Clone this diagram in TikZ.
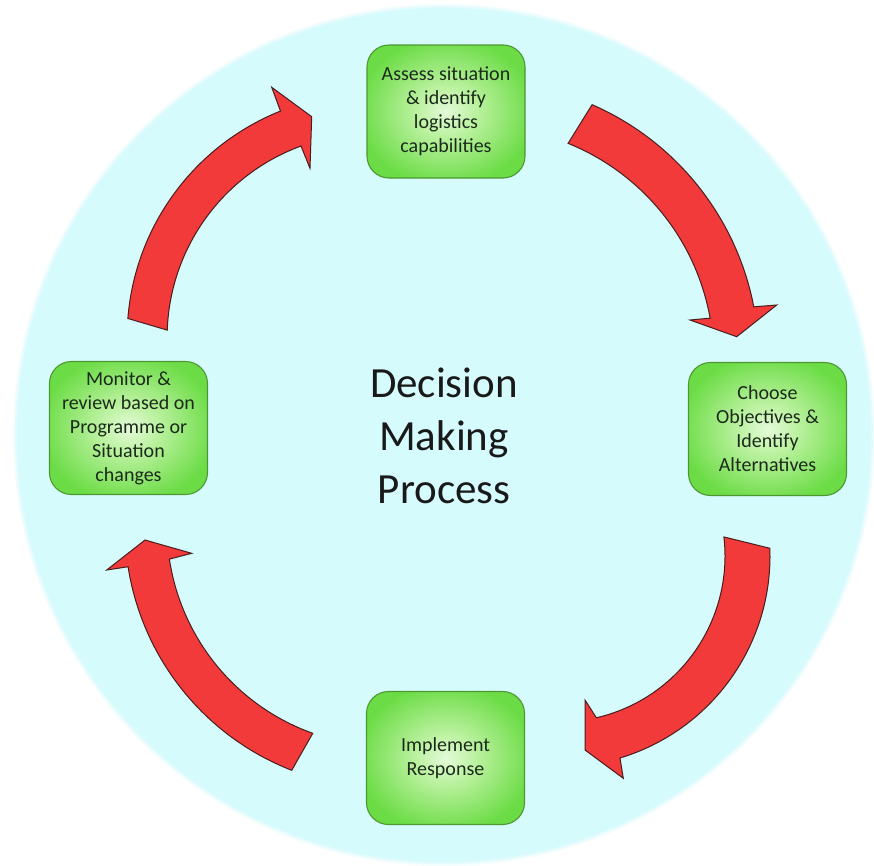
\documentclass[tikz,border=0pt]{standalone}
\usepackage{fontspec}
\setmainfont{Carlito}
\definecolor{discfill}{HTML}{D5FBFC}
\definecolor{arrowred}{HTML}{F23A3A}
\definecolor{arrowline}{HTML}{4A1C1C}
\definecolor{glowin}{HTML}{E4FADA}
\definecolor{glowmid}{HTML}{BDF2A2}
\definecolor{glowout}{HTML}{6BDC45}
\definecolor{boxline}{HTML}{4E9832}
\definecolor{boxtext}{HTML}{1C2A1C}
\pgfdeclareradialshading{boxglow}{\pgfpoint{0bp}{0bp}}{%
  color(0bp)=(glowin); color(9bp)=(glowmid); color(28bp)=(glowout); color(50bp)=(glowout)}
\begin{document}
\begin{tikzpicture}[x=1pt,y=-1pt,
  stepbox/.style={draw=boxline, line width=1.1pt, shading=boxglow,
    rounded corners=22pt, minimum width=158pt, minimum height=133pt,
    align=center, text=boxtext, font=\fontsize{20}{24}\selectfont},
  bentarrow/.style={fill=arrowred, draw=arrowline, line width=1pt, line join=miter},
  titletext/.style={align=center, text=black!90, font=\fontsize{43}{53}\selectfont}]

% page
\fill[white] (0,0) rectangle (874,865);
\useasboundingbox (0,0) rectangle (874,865);

% pale disc with a slightly soft rim
\coordinate (hub) at (444,435);
\fill[discfill, opacity=0.3] (hub) circle[radius=431];
\fill[discfill, opacity=0.5] (hub) circle[radius=429];
\fill[discfill] (hub) circle[radius=427];

% process steps
\node[stepbox] (assess)    at (446,111.5) {Assess situation\\\& identify\\logistics\\capabilities};
\node[stepbox] (choose)    at (767.5,429) {Choose\\Objectives \&\\Identify\\Alternatives};
\node[stepbox] (implement) at (445.5,758) {Implement\\Response};
\node[stepbox] (monitor)   at (128.5,428) {Monitor \&\\review based on\\Programme or\\Situation\\changes};

\node[titletext] (title) at (444,436) {Decision\\Making\\Process};

% curved arrows between the steps
\begin{scope}[shift={(480.8,359.4)}]
  \draw[bentarrow] (-66.4:278) arc[start angle=-66.4, end angle=-10.9, radius=278]
    -- (295.9,-54.4) -- (255.9,-22.7) -- (209.2,-39.4)
    -- (-10.2:233) arc[start angle=-10.2, end angle=-68, radius=233] -- cycle;
\end{scope}
\begin{scope}[shift={(559,556)}]
  \draw[bentarrow] (-2.1:211) arc[start angle=-2.1, end angle=73.2, radius=211]
    -- (64.3,222.3) -- (26,194) -- (26,144)
    -- (77:166) arc[start angle=77, end angle=-6.6, radius=166] -- cycle;
\end{scope}
\begin{scope}[shift={(386.9,526.2)}]
  \draw[bentarrow] (111.3:262) arc[start angle=111.3, end angle=171.1, radius=262]
    -- (-280.2,43.8) -- (-241.9,13.8) -- (-195.2,27.1)
    -- (171.4:220) arc[start angle=171.4, end angle=109.7, radius=220] -- cycle;
\end{scope}
\begin{scope}[shift={(371.1,337.6)}]
  \draw[bentarrow] (184.5:244) arc[start angle=184.5, end angle=248.2, radius=244]
    -- (-99.4,-250.3) -- (-59.4,-220.9) -- (-61.1,-169.3)
    -- (249.9:204) arc[start angle=249.9, end angle=182.1, radius=204] -- cycle;
\end{scope}
\end{tikzpicture}
\end{document}
